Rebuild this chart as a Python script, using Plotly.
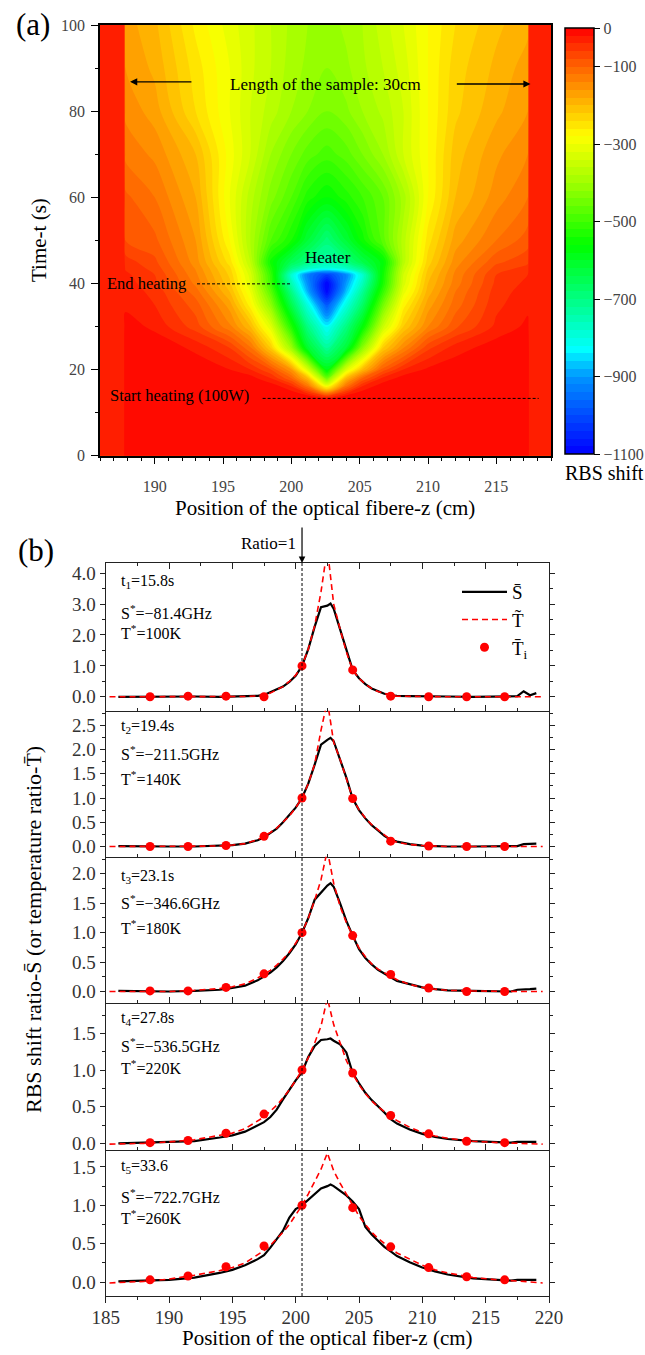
import plotly.graph_objects as go

W, H = 645, 1355
SERIF = "Liberation Serif"
INK = "#222222"


def px(x):
    return x / W


def py(y):
    return 1 - y / H


# ---------------- (a) RBS shift map: position z (cm) vs time t (s) ----------------
map_z = [186, 187.75, 187.85, 190, 193, 195.5, 197, 198.5, 200, 201.2, 202.6,
         204, 205.2, 206.7, 208.2, 210, 212, 215, 217.3, 217.4, 219]
map_t = [0, 13, 14, 16, 18, 20, 25, 30, 35, 38, 40, 42, 43.5, 45, 50, 60, 70, 80, 90, 100]
end_shift = -25  # clamped fibre ends outside the 30 cm sample

# RBS shift (GHz) along the sample, z = 187.85 ... 217.3 cm, one row per time
sample_rows = [
    [0, 0, 0, 0, 0, 0, 0, 0, 0, 0, 0, 0, 0, 0, 0, 0, 0],
    [0, 0, 0, 0, 0, 0, 0, 0, 0, 0, 0, 0, 0, 0, 0, 0, 0],
    [0, 0, 0, 0, 0, 0, -3, -20, -70, -20, -3, 0, 0, 0, 0, 0, 0],
    [0, 0, 0, 0, 0, -5, -35, -110, -280, -110, -35, -5, 0, 0, 0, 0, 0],
    [0, 0, 0, 0, -10, -40, -100, -200, -450, -200, -100, -35, -10, 0, 0, 0, 0],
    [0, 0, -5, -20, -40, -80, -160, -330, -580, -330, -200, -90, -40, -15, -5, 0, 0],
    [0, -5, -25, -60, -115, -220, -400, -610, -720, -620, -420, -220, -140, -65, -30, -8, 0],
    [-10, -25, -70, -135, -200, -320, -530, -700, -830, -700, -570, -350, -220, -140, -85, -35, -15],
    [-25, -40, -90, -170, -270, -420, -640, -800, -980, -800, -670, -450, -270, -170, -110, -45, -25],
    [-30, -45, -110, -200, -300, -470, -700, -880, -1090, -870, -720, -510, -310, -190, -120, -50, -30],
    [-30, -55, -125, -215, -320, -500, -750, -910, -1100, -900, -760, -540, -330, -200, -130, -55, -35],
    [-35, -60, -135, -225, -330, -510, -780, -930, -1020, -920, -780, -550, -340, -210, -135, -60, -40],
    [-42, -68, -142, -235, -345, -530, -700, -770, -800, -770, -700, -560, -355, -220, -142, -72, -52],
    [-50, -75, -150, -250, -360, -550, -650, -700, -740, -700, -640, -570, -370, -230, -150, -85, -65],
    [-80, -95, -160, -280, -380, -480, -540, -620, -690, -620, -550, -470, -370, -250, -170, -120, -90],
    [-95, -120, -180, -300, -370, -430, -480, -530, -560, -530, -500, -460, -390, -280, -200, -150, -120],
    [-125, -145, -200, -290, -340, -400, -440, -470, -490, -470, -440, -400, -340, -280, -210, -165, -140],
    [-145, -170, -240, -300, -340, -370, -400, -420, -440, -425, -400, -375, -340, -280, -225, -185, -160],
    [-160, -185, -250, -300, -335, -360, -390, -405, -420, -405, -385, -360, -330, -280, -230, -195, -170],
    [-170, -195, -265, -310, -335, -360, -385, -400, -410, -395, -380, -350, -320, -280, -240, -205, -185],
]
shift_map = [[end_shift, end_shift] + row + [end_shift, end_shift] for row in sample_rows]

cbar_ticks = [0, -100, -300, -500, -700, -900, -1100]
cbar_text = ["0", "\u2212100", "\u2212300", "\u2212500", "\u2212700", "\u2212900", "\u22121100"]

rainbow = [
    [0.0, "rgb(0,0,255)"],
    [0.182, "rgb(0,150,255)"],
    [0.245, "rgb(0,255,255)"],
    [0.364, "rgb(0,255,130)"],
    [0.49, "rgb(0,255,0)"],
    [0.636, "rgb(160,255,0)"],
    [0.745, "rgb(255,255,0)"],
    [0.836, "rgb(255,170,0)"],
    [0.918, "rgb(255,90,0)"],
    [1.0, "rgb(255,0,0)"],
]

# ---------------- (b) normalised profiles at five times ----------------
panel_times = ["t<sub>1</sub>=15.8s", "t<sub>2</sub>=19.4s", "t<sub>3</sub>=23.1s",
               "t<sub>4</sub>=27.8s", "t<sub>5</sub>=33.6"]
panel_s_star = ["S<sup>*</sup>=\u221281.4GHz", "S<sup>*</sup>=\u2212211.5GHz",
                "S<sup>*</sup>=\u2212346.6GHz", "S<sup>*</sup>=\u2212536.5GHz",
                "S<sup>*</sup>=\u2212722.7GHz"]
panel_t_star = ["T<sup>*</sup>=100K", "T<sup>*</sup>=140K", "T<sup>*</sup>=180K",
                "T<sup>*</sup>=220K", "T<sup>*</sup>=260K"]

# measured RBS shift ratio S-bar
s_z = [186, 188, 190, 192, 194, 195, 196, 197, 197.5, 198, 198.5, 199, 199.5, 200,
       200.5, 201, 201.5, 202, 202.5, 202.75, 203, 203.5, 204, 204.5, 205, 205.5,
       206, 206.5, 207, 207.5, 208, 209, 210, 211, 212, 214, 216, 217, 217.5, 218,
       218.5, 219]
s_ratio_1 = [0.0, 0.01, 0.0, 0.01, 0.0, 0.01, 0.02, 0.03, 0.06, 0.15, 0.25, 0.33, 0.48, 0.68,
             1.0, 1.55, 2.27, 2.9, 2.95, 3.02, 2.85, 2.2, 1.5, 0.87, 0.6, 0.41,
             0.27, 0.18, 0.1, 0.05, 0.03, 0.02, 0.01, 0.01, 0.01, 0.0, 0.01, 0.0, 0.02, 0.18,
             0.05, 0.12]
s_ratio_2 = [0.01, 0.0, 0.0, 0.0, 0.01, 0.03, 0.06, 0.13, 0.19, 0.28, 0.37, 0.5, 0.64, 0.8,
             1.0, 1.3, 1.69, 2.1, 2.2, 2.24, 2.17, 1.8, 1.42, 0.99, 0.75, 0.58,
             0.44, 0.33, 0.22, 0.14, 0.1, 0.05, 0.02, 0.01, 0.0, 0.0, 0.0, 0.0, 0.01, 0.05,
             0.05, 0.06]
s_ratio_3 = [0.01, 0.0, 0.0, 0.01, 0.03, 0.06, 0.1, 0.19, 0.26, 0.32, 0.41, 0.52, 0.65, 0.8,
             1.0, 1.25, 1.56, 1.68, 1.8, 1.84, 1.78, 1.5, 1.2, 0.95, 0.72, 0.57,
             0.46, 0.37, 0.3, 0.24, 0.18, 0.12, 0.07, 0.04, 0.02, 0.01, 0.0, 0.0, 0.03, 0.03,
             0.04, 0.05]
s_ratio_4 = [0.0, 0.01, 0.01, 0.03, 0.08, 0.11, 0.16, 0.24, 0.29, 0.36, 0.46, 0.6, 0.73, 0.86,
             0.97, 1.18, 1.33, 1.41, 1.42, 1.43, 1.4, 1.35, 1.24, 0.96, 0.82, 0.69,
             0.59, 0.51, 0.42, 0.33, 0.27, 0.19, 0.13, 0.09, 0.06, 0.03, 0.01, 0.01, 0.02, 0.02,
             0.02, 0.02]
s_ratio_5 = [0.01, 0.02, 0.03, 0.06, 0.12, 0.16, 0.22, 0.3, 0.35, 0.45, 0.56, 0.67, 0.84, 0.95,
             1.0, 1.07, 1.14, 1.22, 1.25, 1.27, 1.25, 1.19, 1.13, 1.05, 0.95, 0.72,
             0.62, 0.54, 0.46, 0.4, 0.34, 0.26, 0.19, 0.14, 0.1, 0.05, 0.03, 0.02, 0.03, 0.03,
             0.03, 0.03]

# reconstructed temperature ratio T-tilde
t_z = [185.3, 188, 190, 192, 194, 195, 196, 197, 197.5, 198, 198.5, 199, 199.5, 200, 200.5,
       201, 201.5, 202, 202.5, 203, 203.5, 204, 204.5, 205, 205.5, 206, 206.5, 207, 207.5,
       208, 209, 210, 211, 212, 214, 216, 218, 219.5]
t_ratio_1 = [0, 0, 0, 0, 0, 0, 0.01, 0.03, 0.06, 0.12, 0.22, 0.33, 0.5, 0.7, 1.0,
             1.55, 2.3, 3.4, 4.8, 3.0, 2.2, 1.45, 0.87, 0.6, 0.41, 0.27, 0.17, 0.1, 0.05,
             0.02, 0.01, 0, 0, 0, 0, 0, 0, 0]
t_ratio_2 = [0, 0, 0, 0, 0.01, 0.03, 0.06, 0.14, 0.21, 0.29, 0.38, 0.5, 0.63, 0.8, 1.0,
             1.3, 1.7, 2.4, 3.0, 2.15, 1.8, 1.4, 0.99, 0.76, 0.59, 0.45, 0.34, 0.23, 0.14,
             0.09, 0.04, 0.02, 0.01, 0, 0, 0, 0, 0]
t_ratio_3 = [0, 0, 0, 0.02, 0.05, 0.08, 0.13, 0.23, 0.3, 0.36, 0.45, 0.55, 0.67, 0.82, 1.0,
             1.25, 1.55, 1.9, 2.4, 1.84, 1.45, 1.17, 0.95, 0.74, 0.59, 0.47, 0.38, 0.32, 0.27,
             0.2, 0.12, 0.07, 0.04, 0.02, 0.01, 0, 0, 0]
t_ratio_4 = [-0.01, 0.0, 0.02, 0.05, 0.11, 0.14, 0.2, 0.3, 0.36, 0.44, 0.52, 0.62, 0.73, 0.86, 1.0,
             1.17, 1.37, 1.6, 1.98, 1.62, 1.37, 1.13, 0.95, 0.8, 0.68, 0.58, 0.5, 0.43, 0.37,
             0.31, 0.22, 0.15, 0.1, 0.07, 0.03, 0.01, 0.0, -0.01]
t_ratio_5 = [-0.01, 0.01, 0.04, 0.09, 0.15, 0.19, 0.25, 0.35, 0.41, 0.48, 0.56, 0.65, 0.75, 0.87, 1.0,
             1.15, 1.3, 1.47, 1.68, 1.45, 1.29, 1.14, 0.99, 0.86, 0.75, 0.65, 0.57, 0.5, 0.44,
             0.38, 0.3, 0.22, 0.16, 0.12, 0.06, 0.03, 0.01, -0.01]

# discrete temperature ratio T-bar_i at the thermocouples
ti_z = [188.5, 191.5, 194.5, 197.5, 200.5, 204.5, 207.5, 210.5, 213.5, 216.5]
ti_ratio_1 = [0.0, 0.02, 0.02, 0.0, 1.0, 0.87, 0.02, 0.0, 0.0, 0.0]
ti_ratio_2 = [0.0, 0.0, 0.02, 0.21, 1.0, 0.99, 0.11, 0.01, 0.0, 0.0]
ti_ratio_3 = [0.01, 0.01, 0.07, 0.30, 1.0, 0.95, 0.29, 0.06, 0.0, 0.0]
ti_ratio_4 = [0.01, 0.04, 0.14, 0.40, 1.0, 0.96, 0.38, 0.13, 0.03, 0.01]
ti_ratio_5 = [0.03, 0.08, 0.20, 0.47, 1.0, 0.97, 0.46, 0.19, 0.07, 0.03]

s_ratios = [s_ratio_1, s_ratio_2, s_ratio_3, s_ratio_4, s_ratio_5]
t_ratios = [t_ratio_1, t_ratio_2, t_ratio_3, t_ratio_4, t_ratio_5]
ti_ratios = [ti_ratio_1, ti_ratio_2, ti_ratio_3, ti_ratio_4, ti_ratio_5]

ratio_one_z = 200.5

# layout geometry (pixels) of the stacked profile panels
panel_edges = [563.3, 710.7, 856.7, 1003.3, 1150, 1296]
panel_ranges = [[-0.45, 4.32], [-0.21, 2.8], [-0.2, 2.29], [-0.09, 1.91], [-0.18, 1.72]]
panel_dticks = [1, 0.5, 0.5, 0.5, 0.5]
label_rows = [[581.7, 611.5, 631.5], [726.7, 753.3, 778.3], [876.7, 902.3, 926.7],
              [1018.3, 1045, 1066.7], [1166.7, 1195.7, 1216.7]]

fig = go.Figure()

fig.add_trace(go.Contour(
    x=map_z, y=map_t, z=shift_map,
    colorscale=rainbow, zmin=-1100, zmax=0, zauto=False,
    contours=dict(start=-1100, end=0, size=20, coloring="fill", showlines=False),
    line=dict(width=0),
    colorbar=dict(
        x=px(565), xanchor="left", xpad=0,
        y=py(241), yanchor="middle", ypad=0,
        len=426, lenmode="pixels", thickness=29, thicknessmode="pixels",
        outlinewidth=1.5, outlinecolor="black",
        tickmode="array", tickvals=cbar_ticks, ticktext=cbar_text,
        ticks="outside", ticklen=6, tickcolor="black",
        tickfont=dict(family=SERIF, size=16, color="#444"),
    ),
    showlegend=False, hoverinfo="skip",
    xaxis="x", yaxis="y",
))

legend_names = ["S\u0304", "T\u0303", "T\u0304<sub>i</sub>"]
for k in range(5):
    xa, ya = f"x{k + 2}", f"y{k + 2}"
    first = k == 0
    fig.add_trace(go.Scatter(
        x=s_z, y=s_ratios[k], mode="lines", name=legend_names[0],
        line=dict(color="black", width=2.2), showlegend=first, legendrank=1,
        xaxis=xa, yaxis=ya))
    fig.add_trace(go.Scatter(
        x=t_z, y=t_ratios[k], mode="lines", name=legend_names[1],
        line=dict(color="red", width=1.6, dash="6px,4px"), showlegend=first, legendrank=2,
        xaxis=xa, yaxis=ya))
    fig.add_trace(go.Scatter(
        x=ti_z, y=ti_ratios[k], mode="markers", name=legend_names[2],
        marker=dict(color="red", size=9), showlegend=first, legendrank=3,
        xaxis=xa, yaxis=ya))

layout = dict(
    width=W, height=H,
    margin=dict(l=0, r=0, t=0, b=0, autoexpand=False),
    paper_bgcolor="white", plot_bgcolor="white",
    font=dict(family=SERIF, color="black"),
    legend=dict(x=px(457), y=py(573), xanchor="left", yanchor="top",
                font=dict(family=SERIF, size=19), bgcolor="rgba(0,0,0,0)",
                itemwidth=45, tracegroupgap=0),
    xaxis=dict(domain=[px(100), px(551)], range=[186, 219], anchor="y",
               showline=True, linecolor="black", linewidth=1.5, mirror=True,
               ticks="outside", ticklen=7, tickwidth=1.3, tickcolor="black",
               tickvals=[190, 195, 200, 205, 210, 215], ticklabelstandoff=8,
               minor=dict(dtick=1, tick0=186, ticks="outside", ticklen=3.5, tickcolor="black"),
               showgrid=False, zeroline=False,
               tickfont=dict(family=SERIF, size=16, color="#444")),
    yaxis=dict(domain=[py(455.7), py(25)], range=[0, 100], anchor="x",
               showline=True, linecolor="black", linewidth=1.5, mirror=True,
               ticks="outside", ticklen=7, tickwidth=1.3, tickcolor="black",
               dtick=20, ticklabelstandoff=3,
               minor=dict(dtick=10, ticks="outside", ticklen=3.5, tickcolor="black"),
               showgrid=False, zeroline=False,
               tickfont=dict(family=SERIF, size=16, color="#444")),
)

for k in range(5):
    top, bottom = panel_edges[k], panel_edges[k + 1]
    last = k == 4
    layout[f"xaxis{k + 2}"] = dict(
        domain=[px(105.7), px(549)], range=[185, 220], anchor=f"y{k + 2}",
        matches="x6" if not last else None,
        showline=True, linecolor=INK, linewidth=1.3,
        mirror=("ticks" if k == 0 else False),
        ticks=("outside" if last else "inside"), ticklen=6, tickwidth=1.2, tickcolor=INK,
        dtick=5, tick0=185, ticklabelstandoff=-2,
        minor=dict(dtick=2.5, tick0=185, ticks=("outside" if last else "inside"),
                   ticklen=3, tickcolor=INK),
        showticklabels=last, showgrid=False, zeroline=False,
        tickfont=dict(family=SERIF, size=19, color="#333"),
    )
    layout[f"yaxis{k + 2}"] = dict(
        domain=[py(bottom), py(top)], range=panel_ranges[k], anchor=f"x{k + 2}",
        showline=True, linecolor=INK, linewidth=1.3, mirror="ticks",
        ticks="outside", ticklen=5, tickwidth=1.2, tickcolor=INK,
        dtick=panel_dticks[k], tick0=0, tickformat=".1f",
        minor=dict(dtick=panel_dticks[k] / 2, tick0=0, ticks="outside", ticklen=3, tickcolor=INK),
        showgrid=False, zeroline=False,
        tickfont=dict(family=SERIF, size=19, color="#333"),
    )

fig.update_layout(**layout)

ann = []


def text(x, y, s, size, xanchor="center", **kw):
    d = dict(x=x, y=y, xref="paper", yref="paper", text=s, showarrow=False,
             xanchor=xanchor, yanchor="middle",
             font=dict(family=SERIF, size=size, color="black"))
    d.update(kw)
    ann.append(d)


def data_text(x, y, s, size, xanchor="center"):
    ann.append(dict(x=x, y=y, xref="x", yref="y", text=s, showarrow=False,
                    xanchor=xanchor, yanchor="middle",
                    font=dict(family=SERIF, size=size, color="black")))


def data_arrow(x_head, x_tail, y):
    ann.append(dict(x=x_head, y=y, ax=x_tail, ay=y, xref="x", yref="y", axref="x", ayref="y",
                    text="", showarrow=True, arrowhead=2, arrowsize=1.1, arrowwidth=1.3,
                    arrowcolor="black"))


# panel (a) labels
text(px(33), py(25), "(a)", 31)
text(px(39), py(240), "Time-t (s)", 21, textangle=-90)
text(px(325), py(508), "Position of the optical fibere-z (cm)", 21)
text(px(604), py(473), "RBS shift", 20)
data_text(202.5, 86.3, "Length of the sample: 30cm", 17)
data_arrow(188.2, 192.8, 86.8)
data_arrow(217.5, 212.0, 86.3)
data_text(202.7, 46.0, "Heater", 17)
data_text(186.35, 40.0, "End heating", 16.5, xanchor="left")
data_text(186.55, 13.9, "Start heating (100W)", 16.5, xanchor="left")

# panel (b) labels
text(px(36), py(550), "(b)", 31)
text(px(298), py(543), "Ratio=1", 17, xanchor="right")
ann.append(dict(x=ratio_one_z, y=py(563), xref="x6", yref="paper", text="", showarrow=True,
                ax=0, ay=-37, arrowhead=2, arrowsize=1.1, arrowwidth=1.2, arrowcolor="black"))
text(px(33), py(930), "RBS shift ratio-S\u0304 (or temperature ratio-T\u0304)", 22,
     textangle=-90)
text(px(327), py(1338), "Position of the optical fiber-z (cm)", 21)
for k in range(5):
    r = label_rows[k]
    text(px(119), py(r[0]), panel_times[k], 16, xanchor="left")
    text(px(119), py(r[1]), panel_s_star[k], 16, xanchor="left")
    text(px(119), py(r[2]), panel_t_star[k], 16, xanchor="left")

fig.update_layout(annotations=ann)

fig.add_shape(type="line", xref="x", yref="y", x0=193.1, x1=199.9, y0=39.9, y1=39.9,
              line=dict(color="black", width=1, dash="3px,2px"))
fig.add_shape(type="line", xref="x", yref="y", x0=197.9, x1=218.1, y0=13.3, y1=13.3,
              line=dict(color="black", width=1, dash="3px,2px"))
fig.add_shape(type="line", xref="x6", yref="paper", x0=ratio_one_z, x1=ratio_one_z,
              y0=py(1296), y1=py(563), line=dict(color="black", width=1, dash="3px,2px"))

fig.write_html("out.html")
